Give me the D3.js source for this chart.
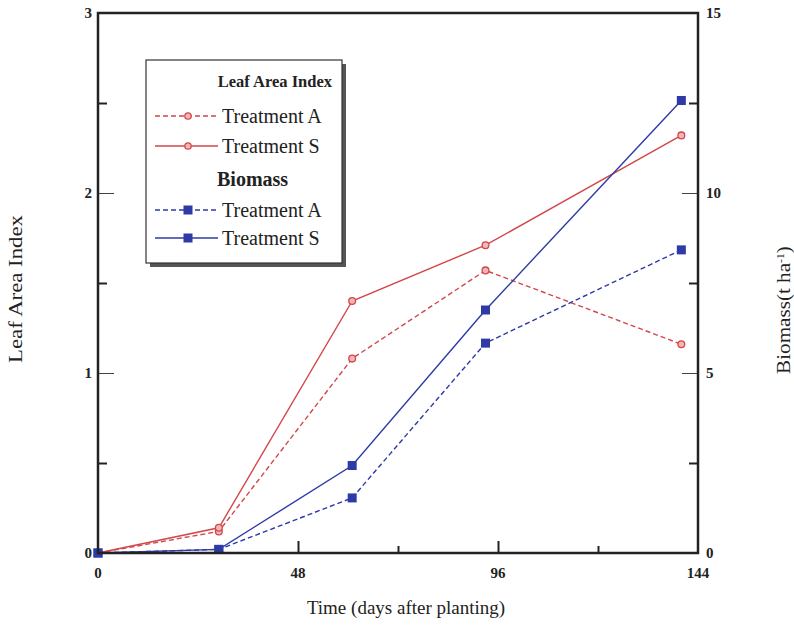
<!DOCTYPE html>
<html>
<head>
<meta charset="utf-8">
<script src="https://cdn.jsdelivr.net/npm/d3@7/dist/d3.min.js"></script>
<style>
  html, body { margin: 0; padding: 0; background: #fff; }
  svg { display: block; }
  text { font-family: "Liberation Serif", "DejaVu Serif", serif; fill: #222; }
</style>
</head>
<body>
<svg id="chart" width="794" height="632"></svg>
<script>
// Sampling days and measured values
const days = [0, 29, 61, 93, 140];
const laiA = [0, 0.12, 1.08, 1.57, 1.16];
const laiS = [0, 0.14, 1.40, 1.71, 2.32];
const bioA = [0, 0.10, 1.53, 5.83, 8.42];
const bioS = [0, 0.10, 2.43, 6.75, 12.57];

const xTicks = [0, 48, 96, 144];
const xMinor = [72, 120];
const leftTicks = [0, 1, 2, 3];
const leftMinor = [0.5, 1.5, 2.5];
const rightTicks = [0, 5, 10, 15];
const rightMinor = [2.5, 7.5, 12.5];

const red = "#d2474a";
const blue = "#2e3aa6";

const svg = d3.select("#chart");
const L = 98, R = 698, T = 13, B = 553;

const x = d3.scaleLinear().domain([0, 144]).range([L, R]);
const yL = d3.scaleLinear().domain([0, 3]).range([B, T]);
const yR = d3.scaleLinear().domain([0, 15]).range([B, T]);

// Inward ticks: major thin and long, minor thick and short
const axL = svg.append("g").attr("transform", `translate(${L},0)`);
axL.call(d3.axisRight(yL).tickValues([1, 2]).tickSize(16).tickFormat(""))
  .call(g => g.selectAll("line").attr("stroke", "#444").attr("stroke-width", 1))
  .call(g => g.select(".domain").remove());
axL.append("g").call(d3.axisRight(yL).tickValues(leftMinor).tickSize(9).tickFormat(""))
  .call(g => g.selectAll("line").attr("stroke", "#222").attr("stroke-width", 2))
  .call(g => g.select(".domain").remove());

const axR = svg.append("g").attr("transform", `translate(${R},0)`);
axR.call(d3.axisLeft(yR).tickValues([5, 10]).tickSize(16).tickFormat(""))
  .call(g => g.selectAll("line").attr("stroke", "#444").attr("stroke-width", 1))
  .call(g => g.select(".domain").remove());
axR.append("g").call(d3.axisLeft(yR).tickValues(rightMinor).tickSize(9).tickFormat(""))
  .call(g => g.selectAll("line").attr("stroke", "#222").attr("stroke-width", 2))
  .call(g => g.select(".domain").remove());

const axB = svg.append("g").attr("transform", `translate(0,${B})`);
axB.call(d3.axisTop(x).tickValues([48, 96]).tickSize(12).tickFormat(""))
  .call(g => g.selectAll("line").attr("stroke", "#222").attr("stroke-width", 2))
  .call(g => g.select(".domain").remove());
axB.append("g").call(d3.axisTop(x).tickValues(xMinor).tickSize(7).tickFormat(""))
  .call(g => g.selectAll("line").attr("stroke", "#222").attr("stroke-width", 2))
  .call(g => g.select(".domain").remove());

// Tick labels
svg.append("g").selectAll("text").data(leftTicks).join("text")
  .attr("x", L - 6).attr("y", d => yL(d) + 5)
  .attr("text-anchor", "end").attr("font-size", 15).attr("font-weight", "bold")
  .attr("fill", "#3a3a3a").text(d => d);
svg.append("g").selectAll("text").data(rightTicks).join("text")
  .attr("x", R + 8).attr("y", d => yR(d) + 5)
  .attr("text-anchor", "start").attr("font-size", 15).attr("font-weight", "bold")
  .attr("fill", "#3a3a3a").text(d => d);
svg.append("g").selectAll("text").data(xTicks).join("text")
  .attr("x", d => x(d)).attr("y", B + 25)
  .attr("text-anchor", "middle").attr("font-size", 15).attr("font-weight", "bold")
  .attr("fill", "#3a3a3a").text(d => d);

// Axis titles; the rotated ones are drawn to a fixed length
function stretchRotated(sel, cx, cy, targetLen) {
  const len = sel.node().getComputedTextLength();
  sel.attr("transform", `translate(${cx},${cy}) rotate(-90) scale(${targetLen / len},1)`);
}
const lt = svg.append("text").attr("text-anchor", "middle").attr("font-size", 18)
  .text("Leaf Area Index");
stretchRotated(lt, 22, 289, 148);

const rt = svg.append("text").attr("text-anchor", "middle").attr("font-size", 18);
rt.append("tspan").text("Biomass(t ha");
rt.append("tspan").attr("dy", -6).attr("font-size", 10).text("-1");
rt.append("tspan").attr("dy", 6).text(")");
stretchRotated(rt, 790, 310, 128);

svg.append("text")
  .attr("x", (L + R) / 2 + 8).attr("y", 614)
  .attr("text-anchor", "middle").attr("font-size", 19).text("Time (days after planting)");

// Series
const series = [
  { vals: laiA, y: yL, color: red, dash: "5,3", marker: "circle" },
  { vals: laiS, y: yL, color: red, dash: null, marker: "circle" },
  { vals: bioA, y: yR, color: blue, dash: "5,3", marker: "square" },
  { vals: bioS, y: yR, color: blue, dash: null, marker: "square" }
];

const plot = svg.append("g");
series.forEach(s => {
  const pts = days.map((d, i) => [d, s.vals[i]]);
  const line = d3.line().x(d => x(d[0])).y(d => s.y(d[1]));
  plot.append("path").datum(pts)
    .attr("d", line).attr("fill", "none")
    .attr("stroke", s.color).attr("stroke-width", 1.4)
    .attr("stroke-dasharray", s.dash);
});
series.forEach(s => {
  const pts = days.map((d, i) => [d, s.vals[i]]);
  if (s.marker === "circle") {
    plot.append("g").selectAll("circle").data(pts).join("circle")
      .attr("cx", d => x(d[0])).attr("cy", d => s.y(d[1])).attr("r", 3.4)
      .attr("fill", "#f3b5b5").attr("stroke", s.color).attr("stroke-width", 1.3);
  } else {
    plot.append("g").selectAll("rect").data(pts).join("rect")
      .attr("x", d => x(d[0]) - 4.5).attr("y", d => s.y(d[1]) - 4.5)
      .attr("width", 9).attr("height", 9).attr("fill", blue);
  }
});

// Frame
svg.append("rect").attr("x", L).attr("y", T).attr("width", R - L).attr("height", B - T)
  .attr("fill", "none").attr("stroke", "#222").attr("stroke-width", 2.5);

// Legend
const lg = svg.append("g");
const lx = 146, ly = 60, lw = 196, lh = 203;
lg.append("rect").attr("x", lx + 4).attr("y", ly + 4).attr("width", lw).attr("height", lh).attr("fill", "#555");
lg.append("rect").attr("x", lx).attr("y", ly).attr("width", lw).attr("height", lh)
  .attr("fill", "#fff").attr("stroke", "#333").attr("stroke-width", 1.2);

lg.append("text").attr("x", 332).attr("y", 87).attr("text-anchor", "end")
  .attr("font-size", 16.5).attr("font-weight", "bold").text("Leaf Area Index");
lg.append("text").attr("x", 217).attr("y", 186).attr("text-anchor", "start")
  .attr("font-size", 20).attr("font-weight", "bold").text("Biomass");

const items = [
  { s: series[0], y: 116, label: "Treatment A" },
  { s: series[1], y: 146, label: "Treatment S" },
  { s: series[2], y: 210, label: "Treatment A" },
  { s: series[3], y: 238, label: "Treatment S" }
];
items.forEach(it => {
  lg.append("line").attr("x1", 155).attr("x2", 218).attr("y1", it.y).attr("y2", it.y)
    .attr("stroke", it.s.color).attr("stroke-width", 1.4).attr("stroke-dasharray", it.s.dash);
  if (it.s.marker === "circle") {
    lg.append("circle").attr("cx", 188).attr("cy", it.y).attr("r", 3.2)
      .attr("fill", "#f3b5b5").attr("stroke", it.s.color).attr("stroke-width", 1.3);
  } else {
    lg.append("rect").attr("x", 183.5).attr("y", it.y - 4.5).attr("width", 9).attr("height", 9)
      .attr("fill", it.s.color);
  }
  lg.append("text").attr("x", 222).attr("y", it.y + 7).attr("font-size", 20).text(it.label);
});
</script>
</body>
</html>
